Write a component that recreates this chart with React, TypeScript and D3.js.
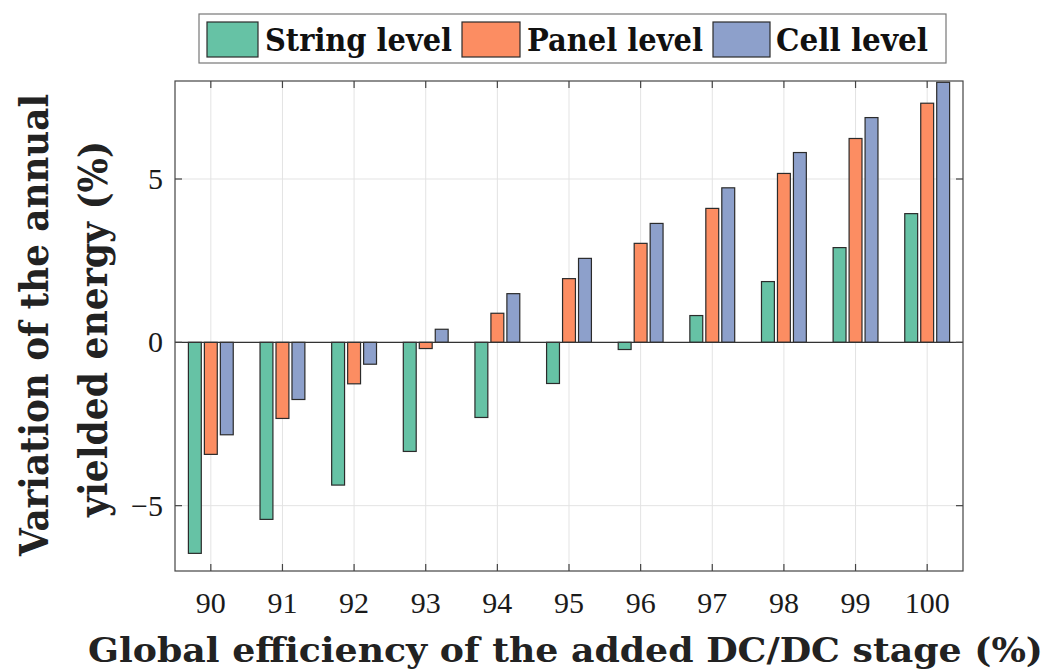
import * as d3 from "d3";

const categories = [90, 91, 92, 93, 94, 95, 96, 97, 98, 99, 100];
const stringLevel = [-6.46, -5.42, -4.37, -3.34, -2.3, -1.26, -0.22, 0.82, 1.86, 2.9, 3.94];
const panelLevel = [-3.43, -2.33, -1.27, -0.19, 0.89, 1.95, 3.03, 4.1, 5.17, 6.24, 7.32];
const cellLevel = [-2.83, -1.75, -0.67, 0.4, 1.49, 2.57, 3.64, 4.73, 5.81, 6.88, 7.96];
const seriesNames = ["String level", "Panel level", "Cell level"];
const seriesColors = ["#66c2a5", "#fc8d62", "#8da0cb"];
const yTicks = [-5, 0, 5];

const W = 1048;
const H = 671;
const M = { left: 175, right: 963, top: 81, bottom: 571 };
const FONT = "'DejaVu Serif', serif";
const TICKFONT = "'Liberation Serif', serif";

export default function App() {
  const x = d3.scaleLinear().domain([89.5, 100.5]).range([M.left, M.right]);
  const y = d3.scaleLinear().domain([-7, 8]).range([M.bottom, M.top]);
  const series = [stringLevel, panelLevel, cellLevel];
  const groupStep = 0.223; // offset between bars in a group (data units)
  const barW = x(0.18) - x(0);

  const legendItems = [
    { sx: 207, sw: 51, tx: 265, tl: 187 },
    { sx: 462, sw: 58, tx: 527, tl: 176 },
    { sx: 713, sw: 57, tx: 776, tl: 152 },
  ];

  return (
    <svg
      width={W}
      height={H}
      style={{ position: "absolute", left: 0, top: 0, background: "#fff" }}
    >
      {/* grid */}
      {categories.map((c) => (
        <line key={"gx" + c} x1={x(c)} x2={x(c)} y1={M.top} y2={M.bottom} stroke="#e3e3e3" strokeWidth={1} />
      ))}
      {yTicks.map((t) => (
        <line key={"gy" + t} x1={M.left} x2={M.right} y1={y(t)} y2={y(t)} stroke="#e3e3e3" strokeWidth={1} />
      ))}

      {/* bars */}
      {series.map((vals, si) =>
        vals.map((v, i) => {
          const cx = x(categories[i] + (si - 1) * groupStep);
          return (
            <rect
              key={si + "-" + i}
              x={cx - barW / 2}
              y={Math.min(y(v), y(0))}
              width={barW}
              height={Math.abs(y(v) - y(0))}
              fill={seriesColors[si]}
              stroke="#2b2b2b"
              strokeWidth={1.2}
            />
          );
        })
      )}

      {/* zero baseline */}
      <line x1={M.left} x2={M.right} y1={y(0)} y2={y(0)} stroke="#333" strokeWidth={1.2} />

      {/* axes box */}
      <rect x={M.left} y={M.top} width={M.right - M.left} height={M.bottom - M.top} fill="none" stroke="#444" strokeWidth={1.2} />

      {/* ticks */}
      {categories.map((c) => (
        <g key={"tx" + c}>
          <line x1={x(c)} x2={x(c)} y1={M.bottom} y2={M.bottom - 7} stroke="#444" strokeWidth={1.2} />
          <line x1={x(c)} x2={x(c)} y1={M.top} y2={M.top + 7} stroke="#444" strokeWidth={1.2} />
          <text x={x(c)} y={613} textAnchor="middle" fontFamily={TICKFONT} fontSize={30} fill="#1a1a1a">
            {c}
          </text>
        </g>
      ))}
      {yTicks.map((t) => (
        <g key={"ty" + t}>
          <line x1={M.left} x2={M.left + 7} y1={y(t)} y2={y(t)} stroke="#444" strokeWidth={1.2} />
          <line x1={M.right} x2={M.right - 7} y1={y(t)} y2={y(t)} stroke="#444" strokeWidth={1.2} />
          <text x={163} y={y(t) + 10} textAnchor="end" fontFamily={TICKFONT} fontSize={30} fill="#1a1a1a">
            {t < 0 ? "\u2212" + Math.abs(t) : t}
          </text>
        </g>
      ))}

      {/* axis titles */}
      <text x={88} y={662} fontFamily={FONT} fontWeight="bold" fontSize={34} fill="#222" textLength={955} lengthAdjust="spacingAndGlyphs">
        Global efficiency of the added DC/DC stage (%)
      </text>
      <g transform="translate(48,325) rotate(-90)">
        <text x={0} y={0} textAnchor="middle" fontFamily={FONT} fontWeight="bold" fontSize={39} fill="#222" textLength={462} lengthAdjust="spacingAndGlyphs">
          Variation of the annual
        </text>
      </g>
      <g transform="translate(107,329) rotate(-90)">
        <text x={0} y={0} textAnchor="middle" fontFamily={FONT} fontWeight="bold" fontSize={39} fill="#222" textLength={376} lengthAdjust="spacingAndGlyphs">
          yielded energy (%)
        </text>
      </g>

      {/* legend */}
      <rect x={199} y={14} width={747} height={49} fill="#fff" stroke="#777" strokeWidth={1.2} />
      {legendItems.map((it, i) => (
        <g key={"lg" + i}>
          <rect x={it.sx} y={22} width={it.sw} height={35} fill={seriesColors[i]} stroke="#2b2b2b" strokeWidth={1.2} />
          <text x={it.tx} y={51} fontFamily={FONT} fontWeight="bold" fontSize={32} fill="#111" textLength={it.tl} lengthAdjust="spacingAndGlyphs">
            {seriesNames[i]}
          </text>
        </g>
      ))}
    </svg>
  );
}
